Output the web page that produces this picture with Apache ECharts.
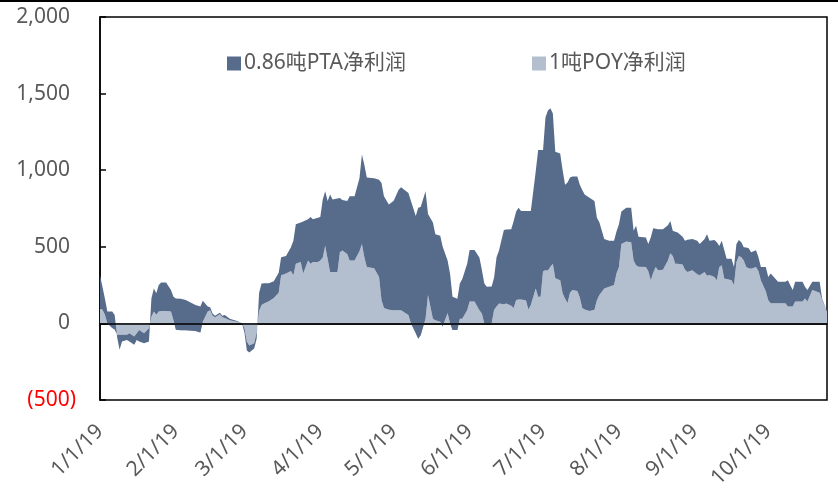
<!DOCTYPE html>
<html>
<head>
<meta charset="utf-8">
<script src="https://cdn.jsdelivr.net/npm/echarts@6/dist/echarts.min.js"></script>
<style>
  html, body { margin: 0; padding: 0; background: #fff; }
  #chart { width: 838px; height: 491px; }
</style>
</head>
<body>
<div id="chart"></div>
<script>
// trading dates (2019, M/D)
const dates = [
  '1/1','1/2','1/3','1/4','1/6','1/7','1/8','1/9','1/10','1/12','1/13','1/15','1/16','1/17','1/19','1/21',
  '1/22','1/23','1/24','1/25','1/26','1/28','1/30','1/31',
  '2/1','2/3','2/5','2/9','2/11','2/12','2/14','2/15','2/16','2/17','2/19','2/20','2/21','2/23','2/26','2/28',
  '3/1','3/2','3/3','3/5','3/6','3/7','3/8','3/9','3/11','3/13','3/15','3/16','3/18','3/20','3/21','3/22',
  '3/24','3/25','3/27','3/28','3/29','3/31',
  '4/1','4/2','4/3','4/4','4/5','4/6','4/8','4/9','4/10','4/12','4/13','4/15','4/17','4/18','4/19','4/20',
  '4/23','4/25','4/26','4/27','4/29',
  '5/1','5/3','5/4','5/7','5/8','5/10','5/11','5/12','5/14','5/15','5/17','5/18','5/20','5/21','5/23','5/24',
  '5/25','5/27','5/28','5/29','5/31',
  '6/1','6/3','6/5','6/6','6/7','6/8','6/10','6/11','6/12','6/13','6/15','6/16','6/18','6/19','6/20','6/21',
  '6/22','6/24','6/25','6/26','6/27','6/28','6/29','6/30',
  '7/1','7/2','7/3','7/4','7/5','7/6','7/8','7/9','7/10','7/11','7/12','7/13','7/15','7/16','7/17','7/18',
  '7/20','7/22','7/23','7/24','7/26','7/28','7/30','7/31',
  '8/1','8/2','8/4','8/6','8/7','8/8','8/9','8/12','8/13','8/14','8/15','8/16','8/17','8/19','8/21','8/22',
  '8/23','8/24','8/25','8/27','8/28','8/29','8/31',
  '9/2','9/3','9/5','9/6','9/7','9/9','9/10','9/11','9/12','9/13','9/14','9/16','9/17','9/18','9/19','9/20',
  '9/21','9/22','9/23','9/24','9/26','9/27','9/28','9/30',
  '10/1','10/2','10/5','10/8','10/9','10/11','10/12','10/15','10/16','10/17','10/19','10/22','10/23','10/25'
];

// 1吨POY净利润 (bottom of the stack)
const poyProfit = [
  97, 88, 56, 0, -30, -40, -75, -75, -75, -75, -65, -86, -65, -43, -65, -32,
  43, 77, 56, 77, 80, 80, 77, 22,
  -41, -45, -45, -50, -60, 10, 77, 85, 50, 40, 60, 40, 35, 20, 10, 0,
  -30, -120, -145, -130, -60, 80, 120, 130, 145, 165, 200, 314, 325, 341, 314, 389,
  400, 325, 411, 389, 400, 400,
  411, 430, 507, 420, 335, 335, 335, 464, 475, 453, 411, 411, 470, 518, 432, 368,
  360, 303, 153, 100, 88,
  86, 86, 86, 54, 0, -64, -100, -77, 30, 185, 30, 20, 10, -20, 67, 0,
  -43, -43, 30, 30, 86,
  142, 142, 86, 65, 0, 0, 0, 88, 110, 129, 125, 129, 115, 101, 153, 155,
  155, 150, 90, 120, 174, 228, 174, 174,
  340, 346, 345, 370, 389, 294, 282, 196, 160, 133, 200, 217, 212, 170, 101, 90,
  80, 88, 150, 185, 228, 239, 250, 325,
  368, 518, 535, 530, 411, 379, 370, 368, 340, 282, 330, 368, 346, 350, 411, 458,
  440, 389, 389, 385, 350, 335, 346,
  320, 314, 335, 310, 315, 303, 282, 368, 379, 292, 290, 282, 250, 400, 440, 432,
  410, 368, 360, 357, 368, 340, 280, 210,
  150, 131, 131, 131, 110, 110, 142, 142, 163, 142, 217, 200, 150, 77
];

// 0.86吨PTA净利润 (stacked on top)
const ptaProfit = [
  217, 151, 107, 77, 107, 94, -15, -97, -43, -33, -53, -54, -43, -75, -65, -86,
  120, 151, 140, 173, 186, 186, 140, 152,
  204, 205, 197, 170, 170, 138, 33, 20, 15, 10, 10, 10, 20, 10, 5, 0,
  -30, -58, -45, -35, -40, 120, 140, 132, 117, 110, 130, 118, 115, 156, 226, 258,
  258, 340, 268, 305, 279, 290,
  283, 378, 355, 378, 506, 473, 480, 355, 330, 345, 419, 419, 478, 585, 602, 584,
  588, 634, 763, 730, 688,
  714, 787, 802, 797, 800, 765, 855, 837, 832, 529, 628, 562, 562, 520, 344, 325,
  217, 203, 230, 260, 303,
  337, 337, 344, 285, 260, 239, 240, 212, 322, 346, 484, 483, 500, 568, 577, 600,
  578, 583, 643, 613, 688, 763, 957, 957,
  791, 1000, 1045, 1034, 981, 826, 827, 804, 745, 787, 752, 742, 747, 735, 769, 751,
  740, 710, 540, 475, 322, 301, 290, 275,
  279, 212, 220, 225, 193, 258, 196, 193, 178, 278, 291, 250, 269, 265, 229, 211,
  164, 209, 204, 180, 190, 210, 204,
  220, 204, 215, 272, 225, 241, 248, 137, 161, 188, 131, 139, 118, 118, 104, 98,
  87, 127, 130, 107, 110, 92, 88, 158,
  153, 194, 140, 140, 172, 107, 129, 129, 76, 75, 54, 71, 10, 3
];

const tickDates = ['1/1','2/1','3/1','4/1','5/1','6/1','7/1','8/1','9/1','10/1'];
const tickLabels = ['1/1/19','2/1/19','3/1/19','4/1/19','5/1/19','6/1/19','7/1/19','8/1/19','9/1/19','10/1/19'];

const seriesNames = ['0.86吨PTA净利润', '1吨POY净利润'];
const FONT = "'Noto Sans', 'Noto Sans CJK SC', sans-serif";

function toTime(md) {
  const p = md.split('/').map(Number);
  return new Date(2019, p[0] - 1, p[1]).getTime();
}

const tickTimes = tickDates.map(toTime);
const xMin = toTime('1/1');
const xMax = toTime('10/25');

function fmtNum(v) {
  return Math.abs(v).toString().replace(/\B(?=(\d{3})+(?!\d))/g, ',');
}

const chart = echarts.init(document.getElementById('chart'));

chart.setOption({
  animation: false,
  textStyle: { fontFamily: FONT },
  graphic: [{
    type: 'rect',
    shape: { x: 0, y: 0, width: 838, height: 2 },
    style: { fill: '#000' },
    silent: true
  }],
  grid: {
    left: 100, right: 11, top: 17, bottom: 86,
    show: true, borderColor: '#000', borderWidth: 1.5,
    containLabel: false
  },
  legend: {
    data: seriesNames,
    left: 222, top: 48,
    icon: 'rect', itemWidth: 14, itemHeight: 14, itemGap: 126,
    textStyle: { fontSize: 21, color: '#595959', fontFamily: FONT, padding: [0, 0, 0, -2] }
  },
  xAxis: [
    {
      // data axis (time, so the stack works on the values)
      type: 'time',
      min: xMin, max: xMax,
      axisLine: { lineStyle: { color: '#000', width: 1.5 } },
      axisTick: { show: false },
      splitLine: { show: false },
      axisLabel: { show: false }
    },
    {
      // label axis, same range, month start labels
      type: 'value',
      position: 'bottom',
      min: xMin, max: xMax,
      axisLine: { show: false },
      axisTick: { show: false },
      splitLine: { show: false },
      axisLabel: {
        customValues: tickTimes,
        rotate: 45,
        margin: 28,
        fontSize: 21,
        color: '#595959',
        fontFamily: FONT,
        formatter: function (v) {
          const i = tickTimes.indexOf(v);
          return i >= 0 ? tickLabels[i] : '';
        }
      }
    }
  ],
  yAxis: {
    type: 'value',
    min: -500, max: 2000, interval: 500,
    axisLine: { show: true, lineStyle: { color: '#000', width: 1.5 } },
    axisTick: { show: true, inside: true, length: 6, lineStyle: { color: '#000', width: 1.5 } },
    splitLine: { show: false },
    axisLabel: {
      margin: 24,
      formatter: function (v) {
        return v < 0 ? '{n|(' + fmtNum(v) + ')}' : '{p|' + fmtNum(v) + '}';
      },
      rich: {
        n: { color: '#ff0000', fontSize: 21, fontFamily: FONT },
        p: { color: '#595959', fontSize: 21, fontFamily: FONT, padding: [0, 6, 0, 0] }
      }
    }
  },
  series: [
    {
      name: seriesNames[1],
      type: 'line',
      stack: 'profit',
      stackStrategy: 'all',
      color: '#b3becf',
      showSymbol: false,
      lineStyle: { width: 0 },
      areaStyle: { color: '#b3becf', opacity: 1 },
      data: dates.map((d, i) => [toTime(d), poyProfit[i]]),
      z: 2
    },
    {
      name: seriesNames[0],
      type: 'line',
      stack: 'profit',
      stackStrategy: 'all',
      color: '#576b8b',
      showSymbol: false,
      lineStyle: { width: 0 },
      areaStyle: { color: '#576b8b', opacity: 1 },
      data: dates.map((d, i) => [toTime(d), ptaProfit[i]]),
      z: 3,
      markLine: {
        silent: true,
        symbol: 'none',
        label: { show: false },
        lineStyle: { color: '#000', width: 1.5, type: 'solid' },
        data: [{ yAxis: 0 }],
        z: 5
      }
    }
  ]
});
</script>
</body>
</html>
